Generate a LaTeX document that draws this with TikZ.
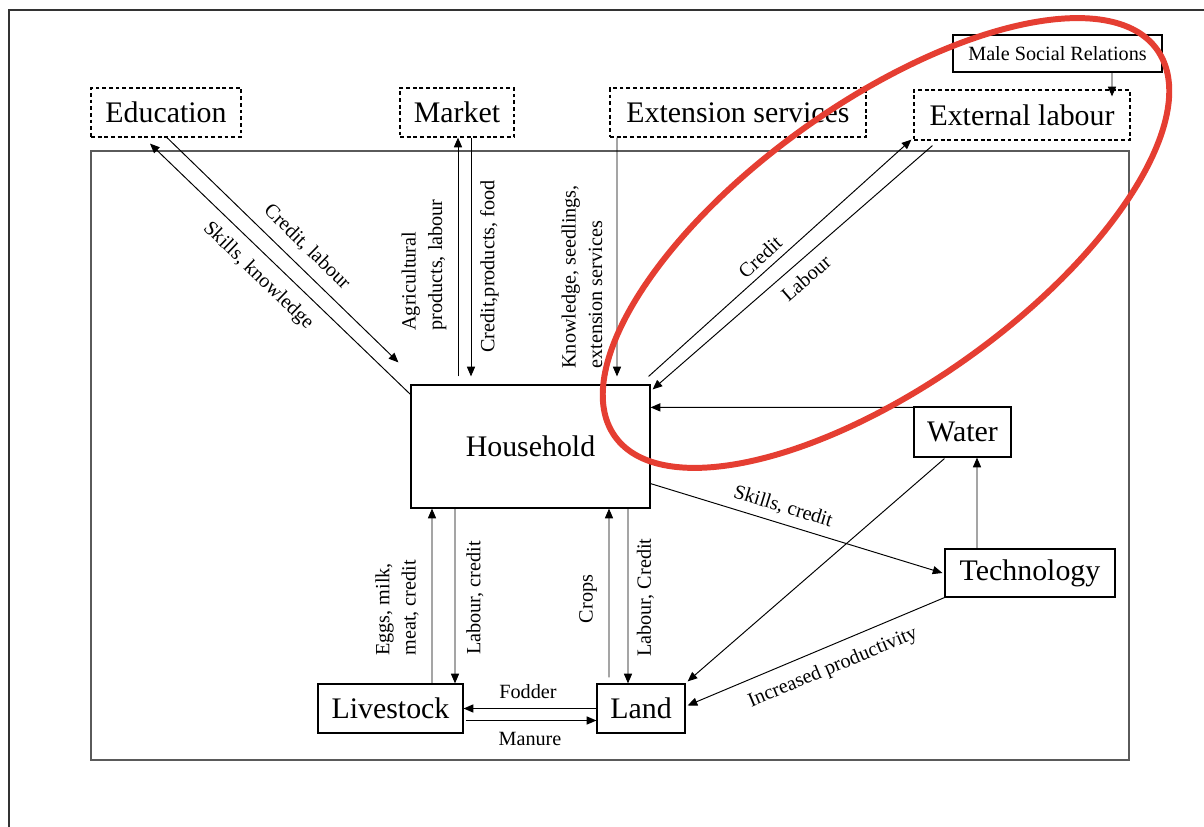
\documentclass[tikz,border=0pt]{standalone}
\usepackage{fontspec}
\setmainfont{Liberation Serif}
\usetikzlibrary{arrows.meta, calc}
\definecolor{ovalred}{RGB}{229,62,50}
\definecolor{framegray}{RGB}{90,90,90}
\tikzset{
    box/.style={draw, line width=0.7pt, fill=white, align=center, inner sep=0pt,
                font=\fontsize{17}{20}\selectfont},
    extbox/.style={box, dash pattern=on 2.2pt off 1.6pt},
    arrow/.style={-{Triangle[length=5.5pt, width=4.6pt]}, line width=0.55pt},
    lbl/.style={font=\fontsize{11.5}{15}\selectfont, inner sep=0pt, align=left},
}
\begin{document}
\begin{tikzpicture}[x=0.02cm, y=-0.02cm]
    \useasboundingbox (0,0) rectangle (1204,827);
    % page edge and farm boundary
    \draw[line width=1.1pt, black!80] (9,827) -- (9,10) -- (1204,10);
    \draw[framegray, line width=0.8pt] (91,151) rectangle (1129,760);
    % outside actors
    \node[extbox, minimum width=3cm, minimum height=0.98cm] (edu) at (166,112.5) {Education};
    \node[extbox, minimum width=2.28cm, minimum height=0.98cm] (mkt) at (457,112.5) {Market};
    \node[extbox, minimum width=5.12cm, minimum height=0.98cm] (ext) at (738,112.5) {Extension services};
    \node[extbox, minimum width=4.32cm, minimum height=1cm] (lab) at (1022,115) {External labour};
    \node[box, line width=1.2pt, font=\fontsize{11.5}{14}\selectfont, minimum width=4.18cm, minimum height=0.74cm] (msr) at (1057.5,53.5) {Male Social Relations};
    % farm
    \node[box, minimum width=4.78cm, minimum height=2.46cm] (hh) at (530.5,446.5) {Household};
    \node[box, minimum width=1.94cm, minimum height=1cm] (wat) at (962.5,432) {Water};
    \node[box, minimum width=3.4cm, minimum height=0.96cm] (tec) at (1030,573) {Technology};
    \node[box, minimum width=2.9cm, minimum height=0.98cm] (liv) at (390.5,708.5) {Livestock};
    \node[box, minimum width=1.76cm, minimum height=0.98cm] (lnd) at (641,708.5) {Land};
    % flows
    \draw[arrow] ($(edu.south)+(1,0)$) -- ($(hh.north west)+(-12,-22)$);
    \draw[arrow] ($(hh.north west)+(0,10)$) -- ($(edu.south)+(-16,6)$);
    \draw[arrow] ($(hh.north)+(-72.5,-8)$) -- ($(mkt.south)+(1,0)$);
    \draw[arrow] ($(mkt.south)+(14,0)$) -- ($(hh.north)+(-59.5,-8)$);
    \draw[arrow] ($(ext.south)+(-121,0)$) -- ($(hh.north)+(86.5,-8)$);
    \draw[arrow] ($(hh.north east)+(-2,-8)$) -- ($(lab.south west)+(-2,-1)$);
    \draw[arrow] ($(lab.south west)+(19,5)$) -- ($(hh.north east)+(2,5)$);
    \draw[arrow] ($(msr.south)+(54.5,0)$) -- ($(lab.north)+(90,7)$);
    \draw[arrow] ($(wat.north west)+(0,1)$) -- ($(hh.north east)+(0,23)$);
    \draw[arrow] ($(hh.south east)+(0,-25)$) -- ($(tec.west)+(-2,0)$);
    \draw[arrow] ($(tec.north)+(-53,0)$) -- ($(wat.south)+(14.5,0)$);
    \draw[arrow] ($(wat.south west)+(31,1)$) -- ($(lnd.north east)+(2,-2)$);
    \draw[arrow] (tec.south west) -- ($(lnd.east)+(2,-3)$);
    \draw[arrow] ($(liv.north)+(41.5,0)$) -- ($(hh.south)+(-98.5,0)$);
    \draw[arrow] ($(hh.south)+(-75.5,0)$) -- ($(liv.north)+(64.5,0)$);
    \draw[arrow] ($(lnd.north)+(-32,-6)$) -- ($(hh.south)+(78.5,0)$);
    \draw[arrow] ($(hh.south)+(97.5,0)$) -- ($(lnd.north)+(-13,0)$);
    \draw[arrow] (lnd.west) -- (liv.east);
    \draw[arrow] ($(liv.east)+(2,12)$) -- ($(lnd.west)+(0,12)$);
    % flow labels
    \node[lbl, rotate=-44.4] (lcrlab) at (307,247) {Credit, labour};
    \node[lbl, rotate=-44] (lskkn) at (258,276) {Skills, knowledge};
    \node[lbl, rotate=90, anchor=west] (lagri) at (424,331) {Agricultural\\products, labour};
    \node[lbl, rotate=90, anchor=west] (lcpf) at (489.5,353) {Credit,products, food};
    \node[lbl, rotate=90, anchor=west] (lknow) at (582,369) {Knowledge, seedlings,\\extension services};
    \node[lbl, rotate=42] (lcred) at (760,257) {Credit};
    \node[lbl, rotate=41.1] (llab) at (806,278) {Labour};
    \node[lbl, rotate=-17.1] (lskcr) at (783,507) {Skills, credit};
    \node[lbl, rotate=22.7] (lprod) at (833,668) {Increased productivity};
    \node[lbl, rotate=90, anchor=west] (leggs) at (397,656) {Eggs, milk,\\meat, credit};
    \node[lbl, rotate=90, anchor=west] (llcl) at (475,655) {Labour, credit};
    \node[lbl, rotate=90] (lcrops) at (588,599) {Crops};
    \node[lbl, rotate=90, anchor=west] (llcc) at (645.5,657) {Labour, Credit};
    \node[lbl] (lfod) at (528,692) {Fodder};
    \node[lbl] (lman) at (530,739) {Manure};
    % highlight
    \draw[ovalred, line width=3.4pt, rotate around={35.5:(886,243)}] (886,243) ellipse [x radius=333, y radius=141];
\end{tikzpicture}
\end{document}
